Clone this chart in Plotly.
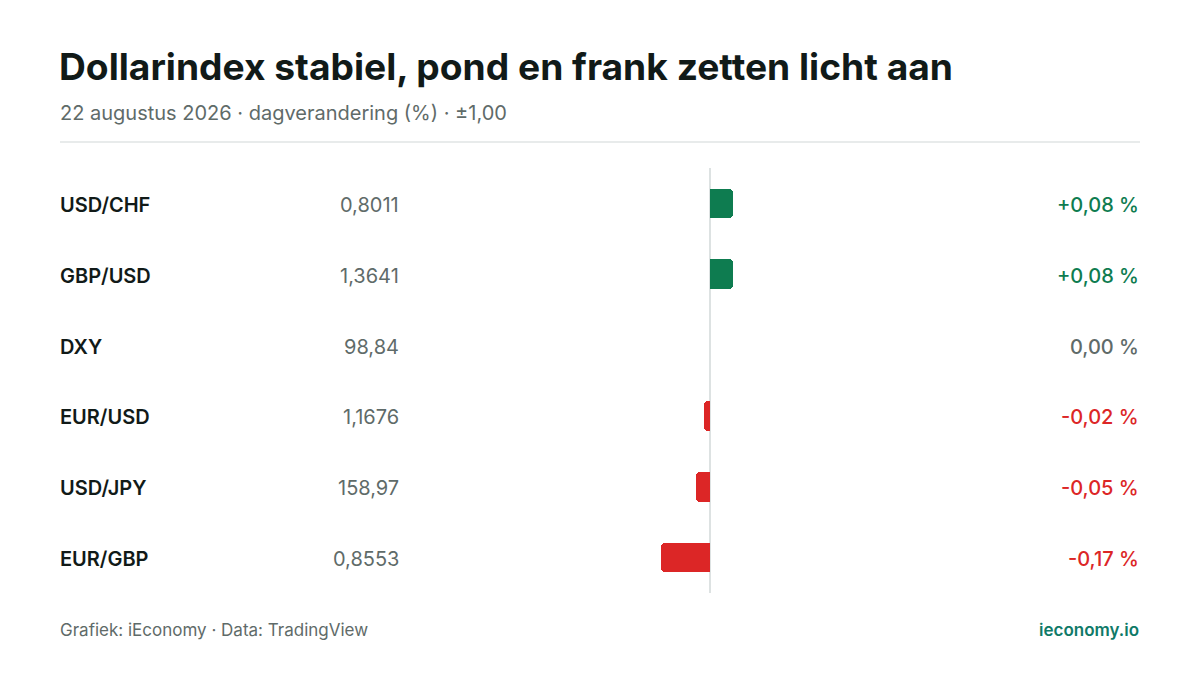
import plotly.graph_objects as go

pairs = ["USD/CHF", "GBP/USD", "DXY", "EUR/USD", "USD/JPY", "EUR/GBP"]
quotes = ["0,8011", "1,3641", "98,84", "1,1676", "158,97", "0,8553"]
changes = [0.08, 0.08, 0.00, -0.02, -0.05, -0.17]

GREEN = "#0e7c50"
RED = "#dc2626"
GREY = "#5f6b69"
DARK = "#111a18"
FONT = "Inter"

W, H = 1200, 675
OFF = 8  # page body margin

def px_x(p):
    return (p - OFF) / W

def px_y(p):
    return 1 - (p - OFF) / H

rows = list(range(len(pairs)))
colors = [GREEN if c > 0 else RED if c < 0 else GREY for c in changes]

fig = go.Figure()
fig.add_trace(go.Bar(
    x=changes, y=rows, orientation="h",
    marker=dict(color=colors, cornerradius=4, line=dict(width=0)),
    width=0.42, hoverinfo="skip", showlegend=False,
))

# zero line
fig.add_shape(type="line", x0=0, x1=0, y0=-0.5, y1=5.5, xref="x", yref="y",
              line=dict(color="#dde2e2", width=2), layer="below")
# separator under subtitle
fig.add_shape(type="line", x0=px_x(60), x1=px_x(1140), y0=px_y(142), y1=px_y(142),
              xref="paper", yref="paper", line=dict(color="#e1e5e5", width=1.5))

def fmt(c):
    s = f"{abs(c):.2f}".replace(".", ",")
    if c > 0:
        return "+" + s + " %"
    if c < 0:
        return "-" + s + " %"
    return s + " %"

ann = []
for i, (p, q, c, col) in enumerate(zip(pairs, quotes, changes, colors)):
    ann.append(dict(x=px_x(58), y=i + 0.02, xref="paper", yref="y", text=p, showarrow=False,
                    xanchor="left", yanchor="middle",
                    font=dict(family=FONT, size=20, color=DARK, weight=600)))
    ann.append(dict(x=px_x(401), y=i + 0.02, xref="paper", yref="y", text=q, showarrow=False,
                    xanchor="right", yanchor="middle",
                    font=dict(family=FONT, size=20, color=GREY)))
    ann.append(dict(x=px_x(1141), y=i + 0.02, xref="paper", yref="y", text=fmt(c), showarrow=False,
                    xanchor="right", yanchor="middle",
                    font=dict(family=FONT, size=20, color=col, weight=500)))

ann.append(dict(x=px_x(57), y=px_y(66), xref="paper", yref="paper",
                text="Dollarindex stabiel, pond en frank zetten licht aan", showarrow=False,
                xanchor="left", yanchor="middle",
                font=dict(family=FONT, size=37.2, color=DARK, weight=700)))
ann.append(dict(x=px_x(58), y=px_y(113), xref="paper", yref="paper",
                text="22 augustus 2026 · dagverandering (%) · ±1,00", showarrow=False,
                xanchor="left", yanchor="middle",
                font=dict(family=FONT, size=20, color=GREY)))
ann.append(dict(x=px_x(58), y=px_y(630), xref="paper", yref="paper",
                text="Grafiek: iEconomy · Data: TradingView", showarrow=False,
                xanchor="left", yanchor="middle",
                font=dict(family=FONT, size=17, color=GREY)))
ann.append(dict(x=px_x(1141), y=px_y(630), xref="paper", yref="paper",
                text="ieconomy.io", showarrow=False,
                xanchor="right", yanchor="middle",
                font=dict(family=FONT, size=17, color="#0f7a68", weight=600)))

fig.update_layout(
    width=W, height=H,
    margin=dict(l=0, r=0, t=0, b=0),
    paper_bgcolor="white", plot_bgcolor="white",
    xaxis=dict(domain=[px_x(410), px_x(1010)], range=[-1.05, 1.05],
               visible=False, fixedrange=True),
    yaxis=dict(domain=[px_y(593), px_y(168)], range=[5.5, -0.5],
               visible=False, fixedrange=True),
    annotations=ann,
    bargap=0,
)

fig.write_html("out.html")
